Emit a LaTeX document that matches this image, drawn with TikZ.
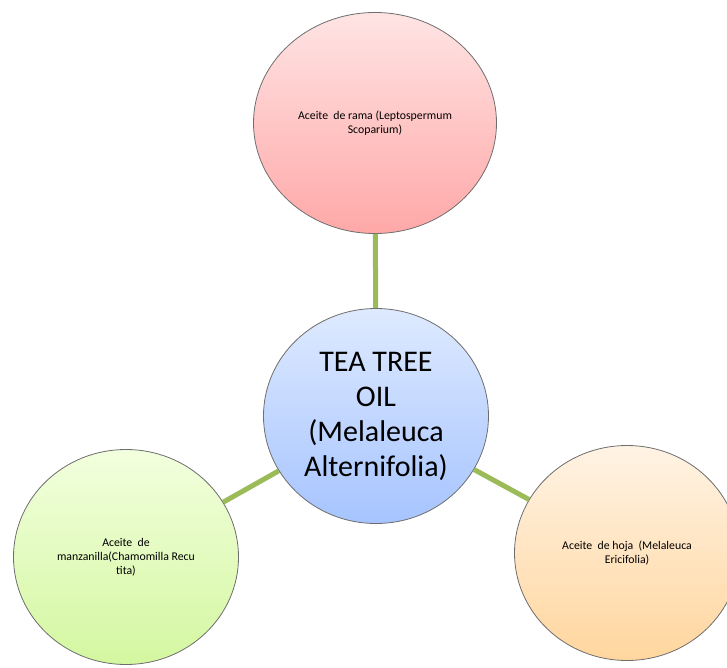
\documentclass[tikz,border=0pt]{standalone}
\usepackage{fontspec}
\setmainfont{Carlito}
\usetikzlibrary{shapes.geometric}
\definecolor{linkgreen}{HTML}{9BBB59}
\definecolor{rimgray}{HTML}{6E6E6E}
\tikzset{
  bubble/.style={ellipse, draw=rimgray, line width=0.8pt, inner sep=0pt, align=center, text=black},
  smalltext/.style={font=\fontsize{11.8}{14}\selectfont},
  bigtext/.style={font=\fontsize{30}{35}\selectfont},
  link/.style={draw=linkgreen, line width=5pt}
}
\begin{document}
\begin{tikzpicture}[x=1pt,y=-1pt]
\useasboundingbox (0,0) rectangle (727,667);
\clip (0,0) rectangle (727,667);
\node[bubble, minimum width=243pt, minimum height=221pt, top color={rgb,255:red,255;green,228;blue,228}, bottom color={rgb,255:red,255;green,168;blue,168}, smalltext] (rama) at (375,123) {Aceite\ \ de rama (Leptospermum\\Scoparium)};
\node[bubble, minimum width=225pt, minimum height=215pt, top color={rgb,255:red,222;green,234;blue,255}, bottom color={rgb,255:red,166;green,196;blue,255}, bigtext] (tea) at (376,416) {TEA TREE\\OIL\\(Melaleuca\\Alternifolia)};
\node[bubble, minimum width=225pt, minimum height=215pt, top color={rgb,255:red,242;green,255;blue,222}, bottom color={rgb,255:red,212;green,247;blue,160}, smalltext] (manz) at (126,557) {Aceite\ \ de\\manzanilla(Chamomilla Recu\\tita)};
\node[bubble, minimum width=225pt, minimum height=215pt, top color={rgb,255:red,255;green,243;blue,228}, bottom color={rgb,255:red,255;green,214;blue,158}, smalltext] (hoja) at (627,553) {Aceite\ \ de hoja\ \ (Melaleuca\\Ericifolia)};
\path[link] (rama) -- (tea);
\path[link] (manz) -- (tea);
\path[link] (hoja) -- (tea);
\end{tikzpicture}
\end{document}
